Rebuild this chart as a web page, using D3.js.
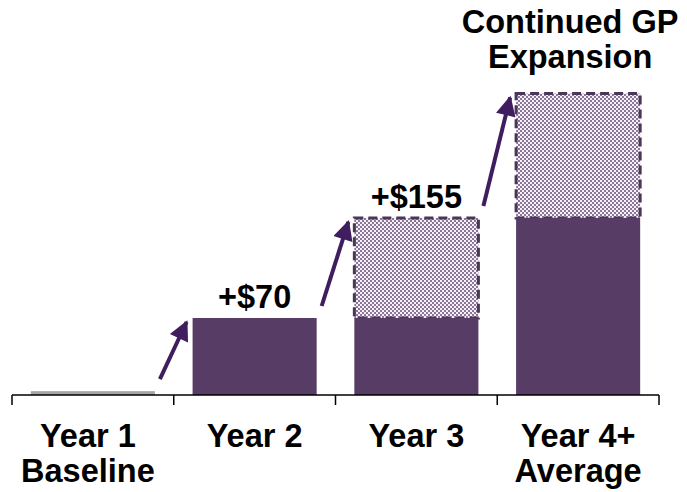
<!DOCTYPE html>
<html>
<head>
<meta charset="utf-8">
<script src="https://cdn.jsdelivr.net/npm/d3@7"></script>
<style>
  body { margin: 0; background: #fff; }
  text { font-family: "Liberation Sans", Arial, sans-serif; font-weight: bold; fill: #000; }
</style>
</head>
<body>
<svg id="chart" width="687" height="492"></svg>
<script>
// chart data
var categories = ["Year 1", "Year 2", "Year 3", "Year 4+"];
var categoryLines = [["Year 1", "Baseline"], ["Year 2"], ["Year 3"], ["Year 4+", "Average"]];
var solidValues = [3.5, 70, 70, 161];     // realised GP
var expansionValues = [0, 0, 91, 113];    // hatched, expected expansion
var valueLabels = ["", "+$70", "+$155", ""];
var titleLines = ["Continued GP", "Expansion"];

var svg = d3.select('#chart');

var baseY = 395;
var fontSize = 32.5;

// scales
var x = d3.scaleBand()
  .domain(categories)
  .range([12, 659])
  .paddingInner(0.233)
  .paddingOuter(0.1165);

var y = d3.scaleLinear()
  .domain([0, 300])
  .range([baseY, baseY - 330]);

// hatch pattern
var defs = svg.append('defs');
var pat = defs.append('pattern')
  .attr('id', 'hatch')
  .attr('patternUnits', 'userSpaceOnUse')
  .attr('width', 4)
  .attr('height', 4);
pat.append('rect').attr('width', 4).attr('height', 4).attr('fill', '#8d7799');
pat.append('rect').attr('x', 0).attr('y', 0).attr('width', 2).attr('height', 2).attr('fill', '#f4f0f6');
pat.append('rect').attr('x', 2).attr('y', 2).attr('width', 2).attr('height', 2).attr('fill', '#f4f0f6');

var arrowColor = '#3f1d5e';
defs.append('marker')
  .attr('id', 'head')
  .attr('viewBox', '0 0 10 10')
  .attr('refX', 9)
  .attr('refY', 5)
  .attr('markerUnits', 'userSpaceOnUse')
  .attr('markerWidth', 24)
  .attr('markerHeight', 20)
  .attr('orient', 'auto')
  .append('path')
  .attr('d', 'M0,0 L10,5 L0,10 Z')
  .attr('fill', arrowColor);

var data = categories.map(function(c, i) {
  return {cat: c, solid: solidValues[i], exp: expansionValues[i], label: valueLabels[i], idx: i};
});

// hatched expansion part
svg.selectAll('.exp')
  .data(data.filter(function(d) { return d.exp > 0; }))
  .enter()
  .append('rect')
  .attr('class', 'exp')
  .attr('x', function(d) { return x(d.cat); })
  .attr('y', function(d) { return y(d.solid + d.exp); })
  .attr('width', x.bandwidth())
  .attr('height', function(d) { return y(d.solid) - y(d.solid + d.exp); })
  .attr('fill', 'url(#hatch)')
  .attr('stroke', '#4a3657')
  .attr('stroke-width', 3)
  .attr('stroke-dasharray', '9,5');

// solid bars
svg.selectAll('.solid')
  .data(data)
  .enter()
  .append('rect')
  .attr('class', 'solid')
  .attr('x', function(d) { return x(d.cat); })
  .attr('y', function(d) { return y(d.solid); })
  .attr('width', x.bandwidth())
  .attr('height', function(d) { return baseY - y(d.solid); })
  .attr('fill', function(d) { return d.idx == 0 ? '#a6a6a6' : '#573c65'; });

// axis line + ticks at band edges
svg.append('line')
  .attr('x1', x.range()[0]).attr('x2', x.range()[1])
  .attr('y1', baseY).attr('y2', baseY)
  .attr('stroke', '#000').attr('stroke-width', 1.5);

var edges = categories.map(function(c) { return x(c) - x.step() * x.paddingInner() / 2; });
edges[0] = x.range()[0];
edges.push(x.range()[1]);
svg.selectAll('.tick')
  .data(edges)
  .enter()
  .append('line')
  .attr('x1', function(d) { return d; }).attr('x2', function(d) { return d; })
  .attr('y1', baseY).attr('y2', baseY + 10)
  .attr('stroke', '#000').attr('stroke-width', 1.5);

// category labels
svg.selectAll('.cat')
  .data(data)
  .enter()
  .append('text')
  .attr('class', 'cat')
  .attr('text-anchor', 'middle')
  .attr('font-size', fontSize)
  .each(function(d) {
    var t = d3.select(this);
    categoryLines[d.idx].forEach(function(line, k) {
      t.append('tspan')
        .attr('x', x(d.cat) + x.bandwidth() / 2 - (d.idx == 0 ? 5 : 0))
        .attr('y', 447 + k * 35)
        .text(line);
    });
  });

// value labels
svg.selectAll('.val')
  .data(data.filter(function(d) { return d.label; }))
  .enter()
  .append('text')
  .attr('class', 'val')
  .attr('text-anchor', 'middle')
  .attr('font-size', fontSize)
  .attr('x', function(d) { return x(d.cat) + x.bandwidth() / 2; })
  .attr('y', function(d) { return y(d.solid + d.exp) - 10; })
  .text(function(d) { return d.label; });

// title above last bar
var last = data[data.length - 1];
svg.append('text')
  .attr('text-anchor', 'middle')
  .attr('font-size', fontSize)
  .selectAll('tspan')
  .data(titleLines)
  .enter()
  .append('tspan')
  .attr('x', x(last.cat) + x.bandwidth() / 2 - 8)
  .attr('y', function(d, i) { return 33 + i * 35; })
  .text(function(d) { return d; });

// arrows between bars
var arrows = d3.pairs(data);
svg.selectAll('.arrow')
  .data(arrows)
  .enter()
  .append('line')
  .attr('class', 'arrow')
  .attr('x1', function(p) { return x(p[0].cat) + x.bandwidth() + 5; })
  .attr('y1', function(p) { return y(p[0].solid + p[0].exp) - 12; })
  .attr('x2', function(p) { return x(p[1].cat) - 6; })
  .attr('y2', function(p) { return y(p[1].solid + p[1].exp) + 4; })
  .attr('stroke', arrowColor)
  .attr('stroke-width', 4)
  .attr('marker-end', 'url(#head)');
</script>
</body>
</html>
